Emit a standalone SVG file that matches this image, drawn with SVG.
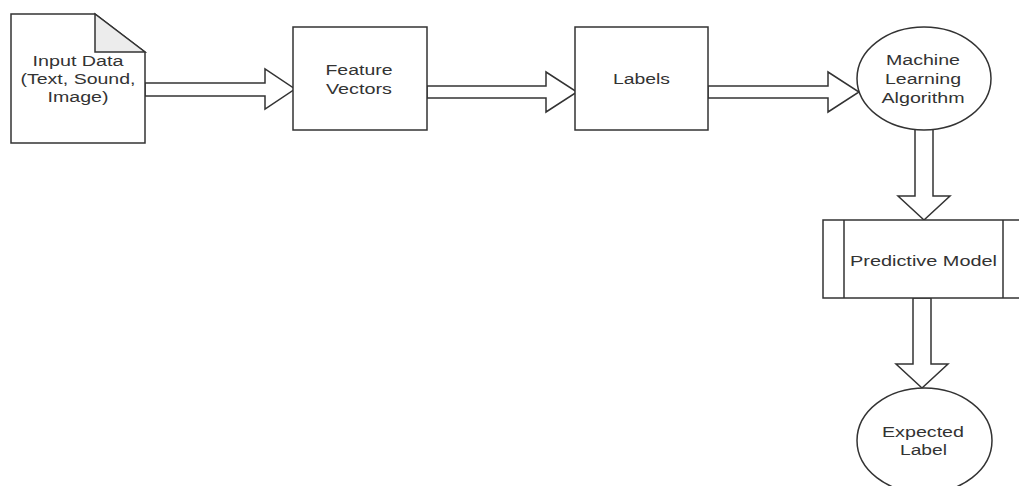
<svg xmlns="http://www.w3.org/2000/svg" width="1019" height="486" viewBox="0 0 1019 486">
<style>
.s{fill:#fff;stroke:#333;stroke-width:1.5}
.f{fill:#ececec;stroke:#333;stroke-width:1.5;stroke-linejoin:miter}
.t{font-family:"Liberation Sans",Arial,sans-serif;font-size:15.5px;fill:#333;text-anchor:middle}
</style>
<rect width="1019" height="486" fill="#fff"/>
<g id="connectors">
<polygon class="s" points="145,83 265,83 265,69 295,89 265,109 265,96 145,96"/>
<polygon class="s" points="427,86 546,86 546,72 577,92 546,112 546,98 427,98"/>
<polygon class="s" points="708,86 828,86 828,72 859,92 828,112 828,98 708,98"/>
<polygon class="s" points="915,129 915,196 898,196 924,220 950,196 933,196 933,129"/>
<polygon class="s" points="913,298 913,364 896,364 922,388 948,364 931,364 931,298"/>
</g>
<g id="input">
<path class="s" d="M11,14 H95 L145,52 V143 H11 Z"/>
<path class="f" d="M95,14 V52 H145 Z"/>
<text class="t" x="78" y="66" textLength="91" lengthAdjust="spacingAndGlyphs">Input Data</text>
<text class="t" x="78" y="84" textLength="115" lengthAdjust="spacingAndGlyphs">(Text, Sound,</text>
<text class="t" x="78" y="102" textLength="61" lengthAdjust="spacingAndGlyphs">Image)</text>
</g>
<g id="features">
<rect class="s" x="293" y="27" width="134" height="103"/>
<text class="t" x="359" y="75" textLength="67" lengthAdjust="spacingAndGlyphs">Feature</text>
<text class="t" x="359" y="93.5" textLength="66" lengthAdjust="spacingAndGlyphs">Vectors</text>
</g>
<g id="labels">
<rect class="s" x="575" y="27" width="133" height="103"/>
<text class="t" x="641.5" y="84" textLength="57" lengthAdjust="spacingAndGlyphs">Labels</text>
</g>
<g id="ml">
<ellipse class="s" cx="924" cy="78.5" rx="67" ry="51.5"/>
<text class="t" x="923" y="65" textLength="74" lengthAdjust="spacingAndGlyphs">Machine</text>
<text class="t" x="923" y="84" textLength="76" lengthAdjust="spacingAndGlyphs">Learning</text>
<text class="t" x="923" y="102.7" textLength="83" lengthAdjust="spacingAndGlyphs">Algorithm</text>
</g>
<g id="model">
<rect class="s" x="823" y="220" width="202" height="78"/>
<line class="s" x1="844" y1="220" x2="844" y2="298"/>
<line class="s" x1="1003" y1="220" x2="1003" y2="298"/>
<text class="t" x="923.5" y="265.7" textLength="147" lengthAdjust="spacingAndGlyphs">Predictive Model</text>
</g>
<g id="expected">
<ellipse class="s" cx="924.5" cy="440.5" rx="67.5" ry="52.5"/>
<text class="t" x="923" y="437" textLength="82" lengthAdjust="spacingAndGlyphs">Expected</text>
<text class="t" x="923.5" y="455" textLength="47" lengthAdjust="spacingAndGlyphs">Label</text>
</g>
</svg>
